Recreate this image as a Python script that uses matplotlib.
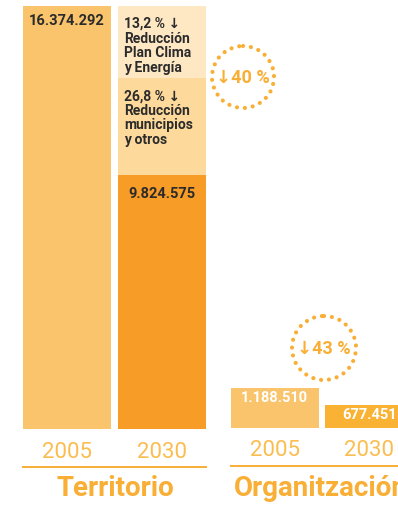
import matplotlib
matplotlib.use("Agg")
import matplotlib.pyplot as plt
from matplotlib.patches import Circle

plt.rcParams["font.family"] = ["Roboto", "DejaVu Sans"]

# ---- data ----
years = ["2005", "2030"]
terr_2005 = 16374292
terr_2030 = 9824575
# reduction segments stacked on the 2030 bar (sizes)
seg_plan = 2800000      # 13,2 % Plan Clima y Energía
seg_other = 3750000     # 26,8 % municipios y otros
seg_labels = ["13,2 % \u2193\nReducción\nPlan Clima\ny Energía",
              "26,8 % \u2193\nReducción\nmunicipios\ny otros"]
org_vals = [1188510, 677451]
group_titles = ["Territorio", "Organitzación"]

C_2005 = "#F9C46B"
C_2030 = "#F89C28"
C_PLAN = "#FEE8C4"
C_OTHER = "#FDD99C"
C_ORG30 = "#F9B233"
C_TXT = "#FBBD50"
C_TITLE = "#F9AE35"
C_DARK = "#2b2b2b"

W, H = 398, 507
fig = plt.figure(figsize=(W / 100, H / 100), dpi=100)


def box(x0, x1, ytop, ybot):
    # pixel box -> figure fraction rect
    return [x0 / W, 1 - ybot / H, (x1 - x0) / W, (ybot - ytop) / H]


def fmt(v):
    return f"{v:,}".replace(",", ".")


bw = 88 / 95

# ---- Territorio ----
ax1 = fig.add_axes(box(23, 206, 6, 429))
ax1.bar(0, terr_2005, bw, color=C_2005)
ax1.bar(1, terr_2030, bw, color=C_2030)
ax1.bar(1, seg_other, bw, bottom=terr_2030, color=C_OTHER)
ax1.bar(1, seg_plan, bw, bottom=terr_2030 + seg_other, color=C_PLAN)
ax1.set_xlim(-bw / 2, 1 + bw / 2)
ax1.set_ylim(0, terr_2005)

ax1.annotate(fmt(terr_2005), (0, terr_2005), xytext=(0, -15), textcoords="offset pixels",
             ha="center", va="center", fontsize=10.5, fontweight="bold", color=C_DARK)
ax1.annotate(fmt(terr_2030), (1, terr_2030), xytext=(0, -19), textcoords="offset pixels",
             ha="center", va="center", fontsize=10.5, fontweight="bold", color=C_DARK)
tops = [terr_2030 + seg_other + seg_plan, terr_2030 + seg_other]
offs = [-11, -11]
for lab, top, off in zip(seg_labels, tops, offs):
    ax1.annotate(lab, (1 - bw / 2, top), xytext=(6, off), textcoords="offset pixels",
                 ha="left", va="top", fontsize=10, fontweight="bold", color=C_DARK,
                 linespacing=1.05)

# ---- Organització ----
ax2 = fig.add_axes(box(231, 413, 328, 428))
ax2.bar(0, org_vals[0], bw, color=C_2005)
ax2.bar(1, org_vals[1], bw, color=C_ORG30)
ax2.set_xlim(-bw / 2, 1 + bw / 2)
ax2.set_ylim(0, org_vals[0] * 100 / 40)
for i, v in enumerate(org_vals):
    ax2.annotate(fmt(v), (i, v), xytext=(0, -10), textcoords="offset pixels",
                 ha="center", va="center", fontsize=10.5, fontweight="bold", color="white")

for ax in (ax1, ax2):
    ax.set_xticks([0, 1])
    ax.set_xticklabels(years, fontsize=16, color=C_TXT)
    ax.tick_params(axis="x", length=0, pad=9)
    ax.set_yticks([])
    for s in ax.spines.values():
        s.set_visible(False)
    ax.patch.set_alpha(0)

# ---- overlay in pixel space: rules, titles, circles ----
ov = fig.add_axes([0, 0, 1, 1], zorder=5)
ov.set_xlim(0, W)
ov.set_ylim(H, 0)
ov.axis("off")
ov.plot([23, 206], [467, 467], color=C_TITLE, lw=1.4)
ov.plot([231, 400], [466, 466], color=C_TITLE, lw=1.4)
ov.text(115, 489, group_titles[0], ha="center", va="center", fontsize=20,
        fontweight="bold", color=C_TITLE)
ov.text(234, 489, group_titles[1], ha="left", va="center", fontsize=20,
        fontweight="bold", color=C_TITLE)

drops = [1 - terr_2030 / terr_2005, 1 - org_vals[1] / org_vals[0]]
centers = [(243, 77), (324, 348)]
radii = [31, 32]
for d, (cx, cy), r in zip(drops, centers, radii):
    ov.add_patch(Circle((cx, cy), r, fill=False, edgecolor=C_TITLE, lw=3,
                        linestyle=(0, (0.01, 1.9)), capstyle="round"))
    ov.text(cx, cy + 1, f"\u2193{d * 100:.0f} %", ha="center", va="center",
            fontsize=13, fontweight="bold", color=C_TITLE)

fig.savefig("out.png", dpi=100)
